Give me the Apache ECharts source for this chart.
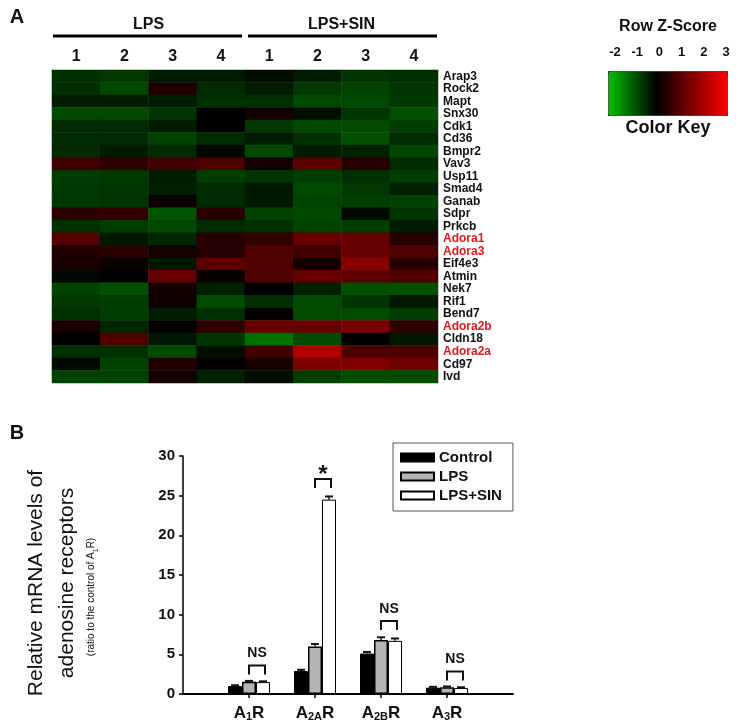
<!DOCTYPE html>
<html>
<head>
<meta charset="utf-8">
<script src="https://cdn.jsdelivr.net/npm/echarts@6/dist/echarts.min.js"></script>
<style>
html, body { margin: 0; padding: 0; background: #fff; }
#chart { width: 736px; height: 728px; }
</style>
</head>
<body>
<div id="chart"></div>
<script>
// ---- panel A: heatmap ----
var genes = ['Arap3', 'Rock2', 'Mapt', 'Snx30', 'Cdk1', 'Cd36', 'Bmpr2', 'Vav3', 'Usp11', 'Smad4',
  'Ganab', 'Sdpr', 'Prkcb', 'Adora1', 'Adora3', 'Eif4e3', 'Atmin', 'Nek7', 'Rif1', 'Bend7',
  'Adora2b', 'Cldn18', 'Adora2a', 'Cd97', 'Ivd'];
var redGenes = ['Adora1', 'Adora3', 'Adora2b', 'Adora2a'];
var sampleNums = ['1', '2', '3', '4', '1', '2', '3', '4'];
var groups = ['LPS', 'LPS+SIN'];
var zTicks = [-2, 3];
// row z-scores, columns: LPS 1-4, LPS+SIN 1-4
var zScores = [
  [-0.5, -0.6, -0.3, -0.3, -0.15, -0.3, -0.55, -0.5],
  [-0.5, -0.75, 0.35, -0.45, -0.3, -0.6, -0.7, -0.55],
  [-0.3, -0.3, -0.3, -0.5, -0.5, -0.75, -0.75, -0.6],
  [-0.8, -0.8, -0.55, 0, 0.25, -0.15, -0.55, -0.85],
  [-0.45, -0.45, -0.3, 0.05, -0.6, -0.75, -0.8, -0.65],
  [-0.45, -0.45, -0.7, -0.45, -0.3, -0.5, -0.85, -0.45],
  [-0.45, -0.3, -0.45, -0.1, -0.75, -0.3, -0.35, -0.75],
  [0.75, 0.55, 0.75, 0.9, 0.25, 1.1, 0.45, -0.45],
  [-0.65, -0.6, -0.3, -0.65, -0.55, -0.65, -0.5, -0.65],
  [-0.6, -0.55, -0.35, -0.45, -0.25, -0.75, -0.6, -0.35],
  [-0.6, -0.55, 0.15, -0.45, -0.3, -0.7, -0.65, -0.7],
  [0.5, 0.6, -0.9, 0.5, -0.7, -0.75, -0.1, -0.55],
  [-0.5, -0.65, -0.75, -0.45, -0.5, -0.7, -0.65, -0.3],
  [1.0, -0.25, -0.4, 0.45, 0.6, 1.2, 1.2, 0.45],
  [0.35, 0.5, 0.25, 0.45, 0.95, 0.75, 1.2, 0.95],
  [0.3, 0.1, -0.25, 1.1, 0.95, 0.25, 1.6, 0.45],
  [-0.1, 0, 1.2, 0.1, 0.95, 1.2, 1.1, 0.95],
  [-0.7, -0.85, 0.25, -0.35, 0, -0.35, -0.85, -0.85],
  [-0.6, -0.65, 0.2, -0.8, -0.5, -0.8, -0.55, -0.25],
  [-0.5, -0.65, -0.3, -0.5, 0.05, -0.8, -0.8, -0.65],
  [0.3, -0.4, 0, 0.55, 1.2, 1.2, 1.4, 0.55],
  [0, 0.95, -0.25, -0.55, -1.2, -0.8, 0, -0.25],
  [-0.5, -0.5, -0.8, -0.15, 0.75, 2.1, 0.9, 0.9],
  [-0.1, -0.7, 0.4, 0.05, 0.3, 1.5, 1.5, 1.3],
  [-0.7, -0.7, 0.25, -0.35, -0.15, -0.65, -0.8, -0.8]
];

// ---- panel B: bars ----
var receptors = ['A1R', 'A2AR', 'A2BR', 'A3R'];
var receptorLabels = ['A{s|1}R', 'A{s|2A}R', 'A{s|2B}R', 'A{s|3}R'];
var seriesNames = ['Control', 'LPS', 'LPS+SIN'];
var controlMean = [1.0, 2.9, 5.1, 0.8];
var controlErr = [0.1, 0.15, 0.2, 0.1];
var lpsMean = [1.55, 6.0, 6.8, 0.85];
var lpsErr = [0.1, 0.3, 0.35, 0.1];
var sinMean = [1.5, 24.5, 6.7, 0.75];
var sinErr = [0.1, 0.4, 0.3, 0.1];
var sigTop = [3.6, 27.1, 9.2, 2.85];
var sigText = ['NS', '*', 'NS', 'NS'];

var FONT = '"Liberation Sans", Arial, sans-serif';
var NARROW = '"Liberation Sans Narrow", "Liberation Sans", Arial, sans-serif';
var BAR_W = 14;

var heat = { left: 52, top: 70, width: 386, height: 313 };

var heatData = [];
zScores.forEach(function (row, r) {
  row.forEach(function (v, c) { heatData.push([c, r, v]); });
});

function errRender(offset) {
  return function (params, api) {
    var p0 = api.coord([api.value(0), api.value(1)]);
    var p1 = api.coord([api.value(0), api.value(1) + api.value(2)]);
    var cx = p0[0] + offset;
    return {
      type: 'group',
      children: [
        { type: 'line', shape: { x1: cx, y1: p0[1], x2: cx, y2: p1[1] }, style: { stroke: '#111', lineWidth: 1.5 } },
        { type: 'line', shape: { x1: cx - 4, y1: p1[1], x2: cx + 4, y2: p1[1] }, style: { stroke: '#111', lineWidth: 2 } }
      ]
    };
  };
}

function sigRender(params, api) {
  var p = api.coord([api.value(0), api.value(1)]);
  var x1 = p[0], x2 = p[0] + 16, y = p[1];
  var txt = sigText[params.dataIndex];
  var star = txt === '*';
  return {
    type: 'group',
    children: [
      { type: 'polyline', shape: { points: [[x1, y + 9], [x1, y], [x2, y], [x2, y + 9]] },
        style: { stroke: '#111', lineWidth: 2, fill: null } },
      { type: 'text', style: { text: txt, x: (x1 + x2) / 2, y: star ? y + 8 : y - 5,
        align: 'center', verticalAlign: 'bottom', textAlign: 'center', textVerticalAlign: 'bottom',
        font: 'bold ' + (star ? 24 : 14) + 'px ' + FONT, fill: '#111' } }
    ]
  };
}

function idxData(arr, err) {
  return arr.map(function (v, i) { return err ? [i + 1, v, err[i]] : [i + 1, v]; });
}

function txt(x, y, s, size) {
  return { type: 'text', x: x, y: y, style: { text: s, font: 'bold ' + size + 'px ' + FONT, fill: '#111',
    align: 'center', verticalAlign: 'middle', textAlign: 'center', textVerticalAlign: 'middle' } };
}

var half = heat.width / 2;
var graphics = [
  txt(17, 17, 'A', 20),
  txt(17, 433, 'B', 20),
  txt(heat.left + half / 2, 25, groups[0], 16),
  txt(heat.left + half * 1.5, 25, groups[1], 16),
  { type: 'line', shape: { x1: heat.left + 1, y1: 36, x2: heat.left + half - 3, y2: 36 }, style: { stroke: '#000', lineWidth: 3 } },
  { type: 'line', shape: { x1: heat.left + half + 3, y1: 36, x2: heat.left + heat.width - 1, y2: 36 }, style: { stroke: '#000', lineWidth: 3 } },
  txt(668, 27, 'Row Z-Score', 16),
  txt(668, 128, 'Color Key', 18)
];

var option = {
  animation: false,
  textStyle: { fontFamily: FONT },
  graphic: graphics,
  grid: [
    heat,
    { left: 183, top: 456, width: 330, height: 238 },
    { left: 615, top: 71, width: 111, height: 44 }
  ],
  visualMap: {
    type: 'continuous', seriesIndex: 0, min: zTicks[0], max: zTicks[1],
    orient: 'horizontal', left: 608, top: 71, itemWidth: 44, itemHeight: 119,
    calculable: false, padding: 0, borderWidth: 1, borderColor: '#222', hoverLink: false,
    inRange: { color: ['#00c400', '#005e00', '#000000', '#550000', '#aa0000', '#ff0000'] }
  },
  legend: {
    data: seriesNames, orient: 'vertical', left: 393, top: 443,
    icon: 'rect', itemWidth: 33, itemHeight: 8, itemGap: 4,
    padding: [7, 11, 8, 7], borderColor: '#555', borderWidth: 1, selectedMode: false,
    textStyle: { fontFamily: FONT, fontWeight: 'bold', fontSize: 15, color: '#111' }
  },
  xAxis: [
    {
      gridIndex: 0, type: 'category', data: sampleNums, position: 'top',
      axisLine: { show: false }, axisTick: { show: false },
      axisLabel: { margin: 5, fontWeight: 'bold', fontSize: 16, color: '#111', fontFamily: FONT }
    },
    {
      gridIndex: 1, type: 'category', data: [''].concat(receptors, ['']), boundaryGap: false,
      axisLine: { lineStyle: { color: '#000', width: 2 } },
      axisTick: { length: 4, lineStyle: { color: '#000', width: 1.5 },
        interval: function (i, v) { return v !== ''; } },
      axisLabel: {
        interval: 0, margin: 11, fontWeight: 'bold', fontSize: 17, color: '#111', fontFamily: FONT,
        formatter: function (v, i) { return i > 0 && i <= receptors.length ? receptorLabels[i - 1] : ''; },
        rich: { s: { fontSize: 11, fontWeight: 'bold', fontFamily: FONT, color: '#111', verticalAlign: 'bottom' } }
      }
    },
    {
      gridIndex: 2, type: 'value', min: -2, max: 3, interval: 1, position: 'top',
      axisLine: { show: true, lineStyle: { color: '#222', width: 1 } },
      axisTick: { show: true, length: 4, lineStyle: { color: '#222' } },
      splitLine: { show: false },
      axisLabel: { margin: 12, fontWeight: 'bold', fontSize: 13, color: '#111', fontFamily: FONT }
    }
  ],
  yAxis: [
    {
      gridIndex: 0, type: 'category', data: genes, inverse: true, position: 'right',
      axisLine: { show: false }, axisTick: { show: false },
      axisLabel: {
        interval: 0, margin: 5, fontWeight: 'bold', fontSize: 12, fontFamily: NARROW,
        color: function (v) { return redGenes.indexOf(v) >= 0 ? '#e8161c' : '#111'; }
      }
    },
    {
      gridIndex: 1, type: 'value', min: 0, max: 30, interval: 5,
      axisLine: { show: true, lineStyle: { color: '#000', width: 1.5 } },
      axisTick: { show: true, length: 4, lineStyle: { color: '#000', width: 1.5 } },
      splitLine: { show: false },
      axisLabel: { margin: 8, fontWeight: 'bold', fontSize: 15, color: '#111', fontFamily: FONT },
      name: '{a|Relative mRNA levels of}\n{a|adenosine receptors}\n{b|(ratio to the control of A}{c|1}{e|R)}',
      nameLocation: 'middle', nameRotate: 90, nameGap: 83,
      nameTextStyle: {
        rich: {
          a: { fontSize: 21, lineHeight: 31, fontFamily: FONT, color: '#111', padding: [0, 16, 0, 0] },
          b: { fontSize: 10, lineHeight: 17, fontFamily: FONT, color: '#111' },
          c: { fontSize: 7, lineHeight: 17, fontFamily: FONT, color: '#111', verticalAlign: 'bottom' },
          e: { fontSize: 10, lineHeight: 17, fontFamily: FONT, color: '#111', padding: [0, 44, 0, 0] }
        }
      }
    },
    { gridIndex: 2, type: 'value', show: false, min: 0, max: 1 }
  ],
  series: [
    {
      type: 'heatmap', xAxisIndex: 0, yAxisIndex: 0, data: heatData,
      emphasis: { disabled: true }, itemStyle: { borderWidth: 0 }
    },
    { type: 'bar', name: seriesNames[0], xAxisIndex: 1, yAxisIndex: 1, barWidth: BAR_W, barGap: '0%',
      data: idxData(controlMean), itemStyle: { color: '#000', borderColor: '#000', borderWidth: 1 } },
    { type: 'bar', name: seriesNames[1], xAxisIndex: 1, yAxisIndex: 1, barWidth: BAR_W, barGap: '0%',
      data: idxData(lpsMean), itemStyle: { color: '#b4b4b4', borderColor: '#000', borderWidth: 1.5 } },
    { type: 'bar', name: seriesNames[2], xAxisIndex: 1, yAxisIndex: 1, barWidth: BAR_W, barGap: '0%',
      data: idxData(sinMean), itemStyle: { color: '#fff', borderColor: '#000', borderWidth: 1 } },
    { type: 'custom', xAxisIndex: 1, yAxisIndex: 1, renderItem: errRender(-BAR_W), data: idxData(controlMean, controlErr), z: 3 },
    { type: 'custom', xAxisIndex: 1, yAxisIndex: 1, renderItem: errRender(0), data: idxData(lpsMean, lpsErr), z: 3 },
    { type: 'custom', xAxisIndex: 1, yAxisIndex: 1, renderItem: errRender(BAR_W), data: idxData(sinMean, sinErr), z: 3 },
    { type: 'custom', xAxisIndex: 1, yAxisIndex: 1, renderItem: sigRender, data: idxData(sigTop), z: 3 },
    { type: 'line', xAxisIndex: 2, yAxisIndex: 2, data: [] }
  ]
};

var myChart = echarts.init(document.getElementById('chart'));
myChart.setOption(option);
</script>
</body>
</html>
